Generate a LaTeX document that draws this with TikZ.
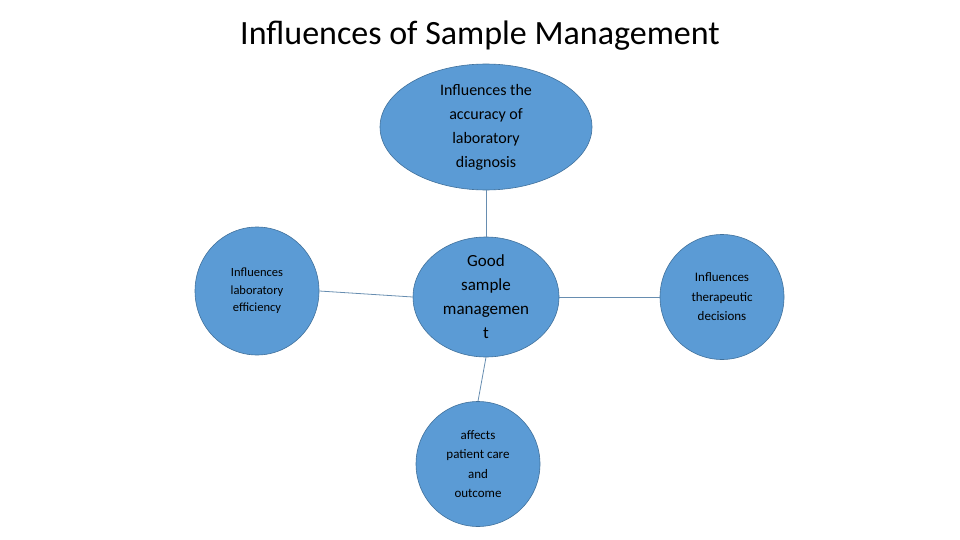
\documentclass[tikz,border=0pt]{standalone}
\usepackage{fontspec}
\setmainfont{Carlito}
\usetikzlibrary{shapes.geometric}
\definecolor{bub}{HTML}{5B9BD5}
\definecolor{bubline}{HTML}{41719C}
\begin{document}
\begin{tikzpicture}[x=1pt,y=-1pt,
  bubble/.style={ellipse,fill=bub,draw=bubline,line width=0.6pt,inner sep=0pt,align=center,text=black},
  link/.style={draw=bubline!80,line width=0.8pt}]
\useasboundingbox (0,0) rectangle (960,540);
\node[font=\fontsize{34}{40}\selectfont\addfontfeature{FakeBold=0}] (title) at (480,36) {Influences of Sample Management};
\node[bubble,minimum width=212,minimum height=126,font=\fontsize{16}{24}\selectfont] (top) at (486,127) {Influences the\\accuracy of\\laboratory\\diagnosis};
\node[bubble,minimum width=146,minimum height=120,font=\fontsize{17}{24}\selectfont] (mid) at (486,297) {Good\\sample\\managemen\\t};
\node[bubble,minimum width=124,minimum height=128,font=\fontsize{12.5}{17.5}\selectfont] (left) at (257,291) {Influences\\laboratory\\efficiency};
\node[bubble,minimum width=124,minimum height=125,font=\fontsize{13}{19.5}\selectfont] (right) at (722,297) {Influences\\therapeutic\\decisions};
\node[bubble,minimum width=124,minimum height=125,font=\fontsize{13}{19.5}\selectfont] (bot) at (478,464) {affects\\patient care\\and\\outcome};
\draw[link] (top.south) -- (mid.north);
\draw[link] (left.east) -- (mid.west);
\draw[link] (mid.east) -- (right.west);
\draw[link] (mid.south) -- (bot.north);
\end{tikzpicture}
\end{document}
